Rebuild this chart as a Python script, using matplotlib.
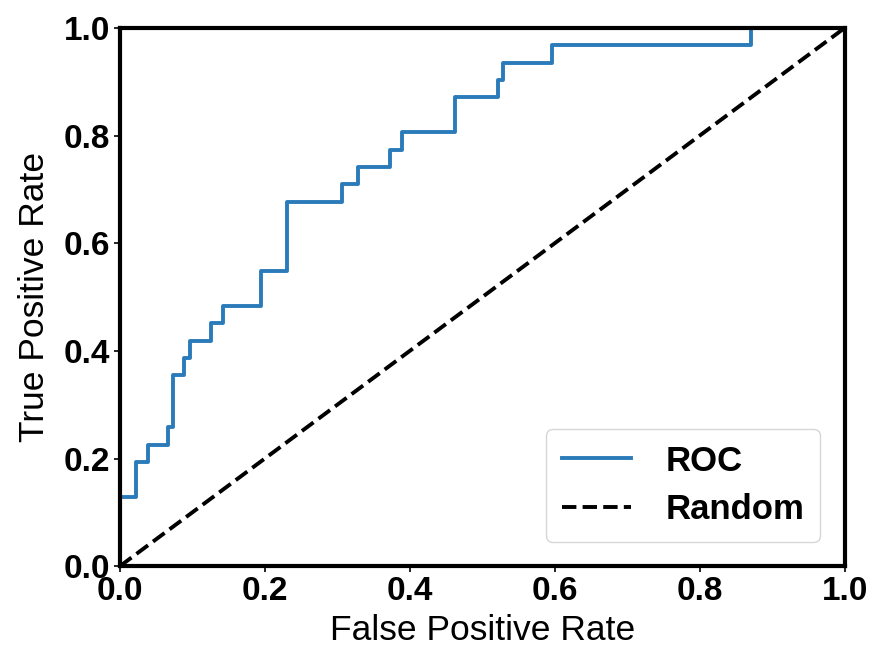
import matplotlib
matplotlib.use("Agg")
import matplotlib.pyplot as plt

fpr = [0.0, 0.0, 0.022, 0.022, 0.039, 0.039, 0.067, 0.067, 0.0736, 0.0736, 0.088, 0.088,
       0.0966, 0.0966, 0.126, 0.126, 0.142, 0.142, 0.194, 0.194, 0.231, 0.231, 0.307, 0.307,
       0.328, 0.328, 0.372, 0.372, 0.389, 0.389, 0.463, 0.463, 0.522, 0.522, 0.529, 0.529,
       0.596, 0.596, 0.871, 0.871, 1.0]
tpr = [0.0, 0.129, 0.129, 0.194, 0.194, 0.226, 0.226, 0.258, 0.258, 0.355, 0.355, 0.387,
       0.387, 0.419, 0.419, 0.452, 0.452, 0.484, 0.484, 0.548, 0.548, 0.677, 0.677, 0.710,
       0.710, 0.742, 0.742, 0.774, 0.774, 0.806, 0.806, 0.871, 0.871, 0.903, 0.903, 0.935,
       0.935, 0.968, 0.968, 1.0, 1.0]
diag = [0.0, 1.0]

plt.rcParams['font.family'] = ['Liberation Sans', 'DejaVu Sans']

fig = plt.figure(figsize=(8.69, 6.5), dpi=100)
ax = fig.add_axes([0.138, 0.129, 0.834, 0.828])
ax.plot(fpr, tpr, color='#2b7bba', lw=2.8, label='ROC')
ax.plot(diag, diag, color='black', lw=2.8, ls=(0, (3.7, 1.6)), label='Random')
ax.set_xlim(0, 1)
ax.set_ylim(0, 1)
ax.set_xticks([0, 0.2, 0.4, 0.6, 0.8, 1.0])
ax.set_yticks([0, 0.2, 0.4, 0.6, 0.8, 1.0])
for lbl in ax.get_xticklabels() + ax.get_yticklabels():
    lbl.set_fontweight('bold')
    lbl.set_fontsize(24)
ax.tick_params(width=1.2, length=4, pad=3)
for s in ax.spines.values():
    s.set_linewidth(3)
ax.set_xlabel('False Positive Rate', fontsize=25.5, labelpad=5)
ax.set_ylabel('True Positive Rate', fontsize=25.5, labelpad=9)
leg = ax.legend(loc='lower right', prop={'weight': 'bold', 'size': 25}, handlelength=2.0,
                borderpad=0.45, labelspacing=0.45, handletextpad=1.0, borderaxespad=0.7)
fig.savefig('out.png', dpi=100)
